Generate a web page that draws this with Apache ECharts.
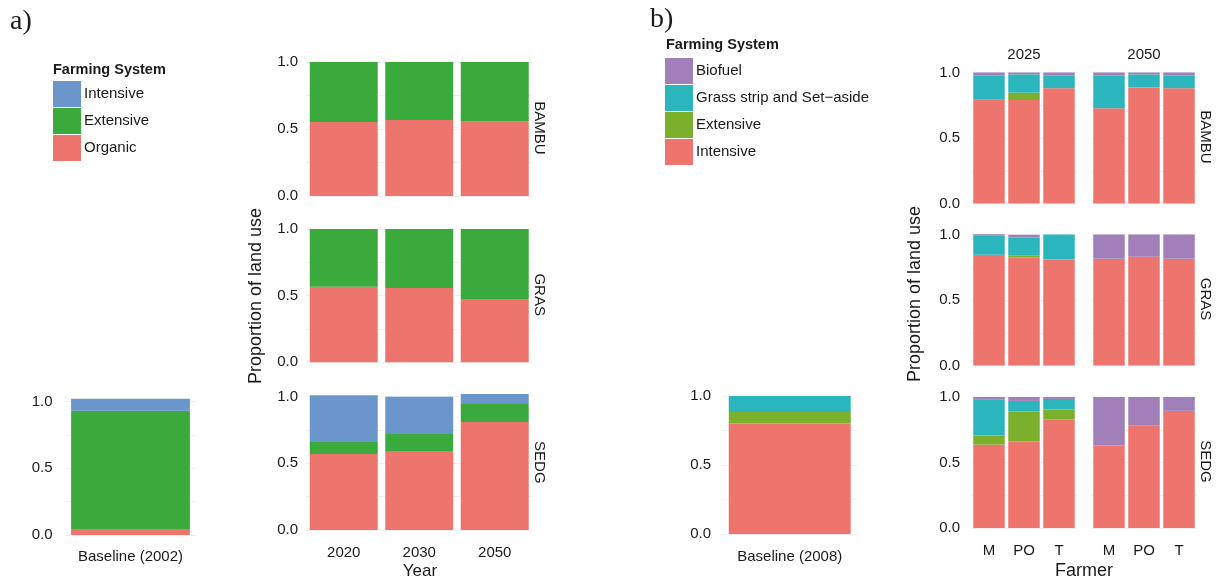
<!DOCTYPE html>
<html>
<head>
<meta charset="utf-8">
<script src="https://cdn.jsdelivr.net/npm/echarts@6.0.0/dist/echarts.min.js"></script>
<style>
    html, body { margin: 0; padding: 0; background: #fff; }
    #chart { width: 1216px; height: 583px; }
</style>
</head>
<body>
<div id="chart"></div>
<script>
// ---------- panel a) data ----------
const modelsA = ['BAMBU', 'GRAS', 'SEDG'];
const yearsA = ['2020', '2030', '2050'];
// one row per model, one value per year
const organicA   = [[0.552, 0.567, 0.560], [0.567, 0.557, 0.475], [0.570, 0.593, 0.810]];
const extensiveA = [[0.448, 0.433, 0.440], [0.433, 0.443, 0.525], [0.090, 0.127, 0.135]];
const intensiveA = [[0, 0, 0], [0, 0, 0], [0.350, 0.280, 0.075]];

const baselineA = ['Baseline (2002)'];
const baseOrganicA = [0.045];
const baseExtensiveA = [0.885];
const baseIntensiveA = [0.090];

// ---------- panel b) data ----------
const modelsB = ['BAMBU', 'GRAS', 'SEDG'];
const yearsB = ['2025', '2050'];
const farmers = ['M', 'PO', 'T'];
// [model][year][farmer]
const intensiveB = [
    [[0.792, 0.790, 0.880], [0.728, 0.886, 0.880]],
    [[0.845, 0.824, 0.810], [0.815, 0.830, 0.815]],
    [[0.636, 0.660, 0.828], [0.630, 0.782, 0.894]]
];
const extensiveB = [
    [[0, 0.056, 0], [0, 0, 0]],
    [[0, 0.015, 0], [0, 0, 0]],
    [[0.070, 0.228, 0.076], [0, 0, 0]]
];
const grassB = [
    [[0.185, 0.140, 0.097], [0.249, 0.100, 0.097]],
    [[0.145, 0.137, 0.190], [0, 0, 0]],
    [[0.274, 0.082, 0.081], [0, 0, 0]]
];
const biofuelB = [
    [[0.023, 0.014, 0.023], [0.023, 0.014, 0.023]],
    [[0.012, 0.022, 0], [0.185, 0.170, 0.185]],
    [[0.020, 0.030, 0.015], [0.370, 0.218, 0.106]]
];

const baselineB = ['Baseline (2008)'];
const baseIntensiveB = [0.800];
const baseExtensiveB = [0.084];
const baseGrassB = [0.116];
const baseBiofuelB = [0];

// ---------- styles ----------
const FONT = '"Liberation Sans", Arial, sans-serif';
const TEXT = '#1a1a1a';
const C = {
    blue: '#6b96cc',
    green: '#3aaa3c',
    red: '#ee756d',
    purple: '#a17fb8',
    teal: '#2bb6bd',
    olive: '#7caf2b'
};
const LEG_A = ['Intensive', 'Extensive', 'Organic'];
const LEG_B = ['Biofuel', 'Grass strip and Set\u2212aside', 'Extensive', 'Intensive'];

const grids = [], xAxes = [], yAxes = [], series = [];

// one stacked-bar panel (stacks listed bottom to top)
function addPanel(p) {
    const i = grids.length;
    grids.push({ left: p.left, top: p.top, width: p.width, height: p.height });
    xAxes.push({
        type: 'category', gridIndex: i, data: p.categories,
        axisLine: { show: false }, axisTick: { show: false },
        axisLabel: { show: p.showX, margin: p.xMargin || 15, fontSize: 15, fontFamily: FONT, color: TEXT }
    });
    yAxes.push({
        type: 'value', gridIndex: i, min: 0, max: 1, interval: 0.25,
        axisLine: { show: false }, axisTick: { show: false },
        axisLabel: {
            show: p.showY, margin: p.yMargin || 10, fontSize: 15, fontFamily: FONT, color: TEXT,
            formatter: v => Math.abs(v * 2 - Math.round(v * 2)) < 1e-6 ? v.toFixed(1) : ''
        },
        splitLine: { lineStyle: { color: '#f0f0f0', width: 1 } }
    });
    p.stacks.forEach(s => {
        series.push({
            type: 'bar', name: s.name, xAxisIndex: i, yAxisIndex: i, stack: 'g' + i,
            data: s.data, barWidth: '90%', clip: false,
            itemStyle: { color: s.color }, emphasis: { disabled: true }
        });
    });
}

// panel a) baseline
addPanel({
    left: 64.5, top: 401.5, width: 132, height: 133.5,
    categories: baselineA, showX: true, showY: true, xMargin: 14, yMargin: 12,
    stacks: [
        { name: 'a:Organic', color: C.red, data: baseOrganicA },
        { name: 'a:Extensive', color: C.green, data: baseExtensiveA },
        { name: 'a:Intensive', color: C.blue, data: baseIntensiveA }
    ]
});

// panel a) facets by model
const topsA = [62, 229, 396.7];
const heightsA = [134, 133.3, 133.3];
modelsA.forEach((m, k) => {
    addPanel({
        left: 306, top: topsA[k], width: 226.5, height: heightsA[k],
        categories: yearsA, showX: k === modelsA.length - 1, showY: true, xMargin: 15, yMargin: 8,
        stacks: [
            { name: 'a:Organic', color: C.red, data: organicA[k] },
            { name: 'a:Extensive', color: C.green, data: extensiveA[k] },
            { name: 'a:Intensive', color: C.blue, data: intensiveA[k] }
        ]
    });
});

// panel b) baseline
addPanel({
    left: 722, top: 396, width: 135.5, height: 138,
    categories: baselineB, showX: true, showY: true, xMargin: 15, yMargin: 11,
    stacks: [
        { name: 'b:Intensive', color: C.red, data: baseIntensiveB },
        { name: 'b:Extensive', color: C.olive, data: baseExtensiveB },
        { name: 'b:' + LEG_B[1], color: C.teal, data: baseGrassB },
        { name: 'b:Biofuel', color: C.purple, data: baseBiofuelB }
    ]
});

// panel b) facets by model (rows) and year (columns)
const topsB = [72.5, 234.5, 397];
const leftsB = [971.5, 1091.5];
modelsB.forEach((m, k) => {
    yearsB.forEach((y, j) => {
        addPanel({
            left: leftsB[j], top: topsB[k], width: 105, height: 131,
            categories: farmers, showX: k === modelsB.length - 1, showY: j === 0,
            xMargin: 15, yMargin: 11.5,
            stacks: [
                { name: 'b:Intensive', color: C.red, data: intensiveB[k][j] },
                { name: 'b:Extensive', color: C.olive, data: extensiveB[k][j] },
                { name: 'b:' + LEG_B[1], color: C.teal, data: grassB[k][j] },
                { name: 'b:Biofuel', color: C.purple, data: biofuelB[k][j] }
            ]
        });
    });
});

// free text: axis titles, strip labels, panel tags
function txt(text, x, y, size, rot, extra) {
    return {
        type: 'text', x: x, y: y, rotation: rot || 0, silent: true,
        style: Object.assign({
            text: text, fontSize: size, fontFamily: FONT, fill: TEXT,
            align: 'center', verticalAlign: 'middle'
        }, extra || {})
    };
}
const R = Math.PI / 2;
const graphic = [
    txt('a)', 10, 22, 28, 0, { align: 'left', fontFamily: '"Liberation Serif", "DejaVu Serif", serif' }),
    txt('b)', 650, 20, 28, 0, { align: 'left', fontFamily: '"Liberation Serif", "DejaVu Serif", serif' }),
    txt('Proportion of land use', 256, 296, 18, R),
    txt('Proportion of land use', 915, 294, 18, R),
    txt('Year', 420, 571.7, 17),
    txt('Farmer', 1084, 570.7, 18),
    txt('2025', 1024, 55, 15),
    txt('2050', 1144, 55, 15)
];
modelsA.forEach((m, k) => graphic.push(txt(m, 539, topsA[k] + heightsA[k] / 2 - 1, 15, -R)));
modelsB.forEach((m, k) => graphic.push(txt(m, 1205, topsB[k] + 65.5 - 1, 15, -R)));

const legendCommon = {
    orient: 'vertical', icon: 'rect', padding: 0,
    itemWidth: 28, itemHeight: 26, itemGap: 1, selectedMode: false,
    formatter: n => n.slice(2),
    textStyle: { fontSize: 15, fontFamily: FONT, color: TEXT, padding: [0, 0, 0, -2] }
};

const option = {
    animation: false,
    backgroundColor: '#fff',
    title: [
        { text: 'Farming System', left: 53, top: 62, padding: 0,
          textStyle: { fontSize: 14.5, fontWeight: 'bold', fontFamily: FONT, color: TEXT } },
        { text: 'Farming System', left: 666, top: 37, padding: 0,
          textStyle: { fontSize: 14.5, fontWeight: 'bold', fontFamily: FONT, color: TEXT } }
    ],
    legend: [
        Object.assign({ left: 53, top: 81, data: LEG_A.map(n => 'a:' + n) }, legendCommon),
        Object.assign({ left: 665, top: 58, data: LEG_B.map(n => 'b:' + n) }, legendCommon)
    ],
    grid: grids,
    xAxis: xAxes,
    yAxis: yAxes,
    series: series,
    graphic: graphic
};

const chart = echarts.init(document.getElementById('chart'));
chart.setOption(option);
</script>
</body>
</html>
